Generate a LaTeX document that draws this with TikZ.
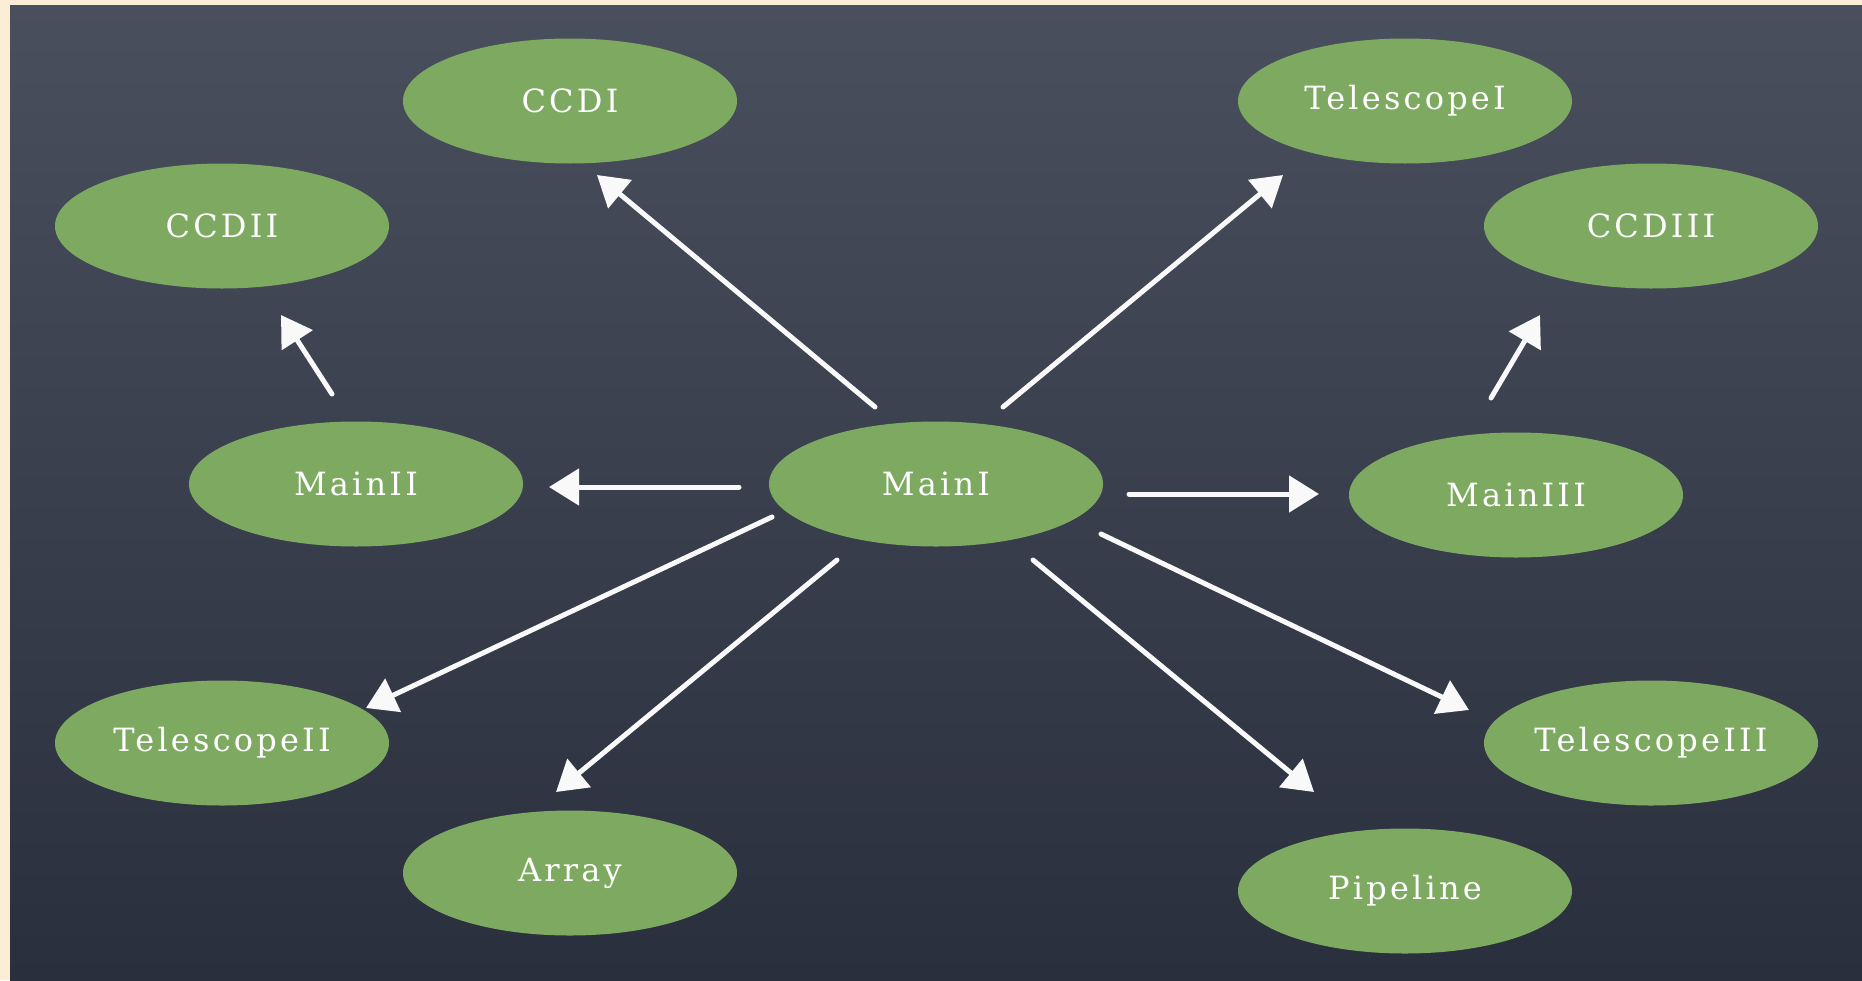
\documentclass[tikz,border=0pt]{standalone}
\usepackage{fontspec}
\setmainfont{DejaVu Serif}[LetterSpace=10]
\usetikzlibrary{arrows.meta,shapes.geometric}
\definecolor{frame}{HTML}{FCEED6}
\definecolor{boardtop}{HTML}{4A4F5E}
\definecolor{boardbot}{HTML}{2A2F3D}
\definecolor{leaf}{HTML}{7DAA60}
\tikzset{
  bubble/.style={ellipse, fill=leaf, minimum width=334pt, minimum height=125pt, inner sep=0pt,
    text=white, font=\fontsize{32}{36}\selectfont},
  chalk/.style={draw=white!95!gray, line width=5pt, -{Triangle[length=30pt,width=36pt]}, line cap=round}
}
\begin{document}
\begin{tikzpicture}[x=1pt,y=-1pt]
\useasboundingbox (0,0) rectangle (1862,980);
\fill[frame] (0,0) rectangle (1862,980);
\shade[top color=boardtop, bottom color=boardbot] (10,5) rectangle (1862,980);

\node[bubble] (ccdi) at (570,101) {CCDI};
\node[bubble] (telI) at (1405,101) {TelescopeI};
\node[bubble] (ccdii) at (222,226) {CCDII};
\node[bubble] (ccdiii) at (1651,226) {CCDIII};
\node[bubble] (mainii) at (356,484) {MainII};
\node[bubble] (maini) at (936,484) {MainI};
\node[bubble] (mainiii) at (1516,495) {MainIII};
\node[bubble] (telII) at (222,743) {TelescopeII};
\node[bubble] (telIII) at (1651,743) {TelescopeIII};
\node[bubble] (array) at (570,873) {Array};
\node[bubble] (pipe) at (1405,891) {Pipeline};

\coordinate (a1s) at (875,407);  \coordinate (a1e) at (597,175);
\coordinate (a2s) at (1003,407); \coordinate (a2e) at (1283,175);
\coordinate (a3s) at (332,394);  \coordinate (a3e) at (281,315);
\coordinate (a4s) at (1491,398); \coordinate (a4e) at (1540,315);
\coordinate (a5s) at (739,487);  \coordinate (a5e) at (549,487);
\coordinate (a6s) at (1129,494); \coordinate (a6e) at (1319,494);
\coordinate (a7s) at (772,517);  \coordinate (a7e) at (366,708);
\coordinate (a8s) at (837,560);  \coordinate (a8e) at (556,792);
\coordinate (a9s) at (1033,560); \coordinate (a9e) at (1314,792);
\coordinate (a10s) at (1101,534); \coordinate (a10e) at (1469,710);

\draw[chalk] (a1s) -- (a1e);
\draw[chalk] (a2s) -- (a2e);
\draw[chalk] (a3s) -- (a3e);
\draw[chalk] (a4s) -- (a4e);
\draw[chalk] (a5s) -- (a5e);
\draw[chalk] (a6s) -- (a6e);
\draw[chalk] (a7s) -- (a7e);
\draw[chalk] (a8s) -- (a8e);
\draw[chalk] (a9s) -- (a9e);
\draw[chalk] (a10s) -- (a10e);
\end{tikzpicture}
\end{document}
